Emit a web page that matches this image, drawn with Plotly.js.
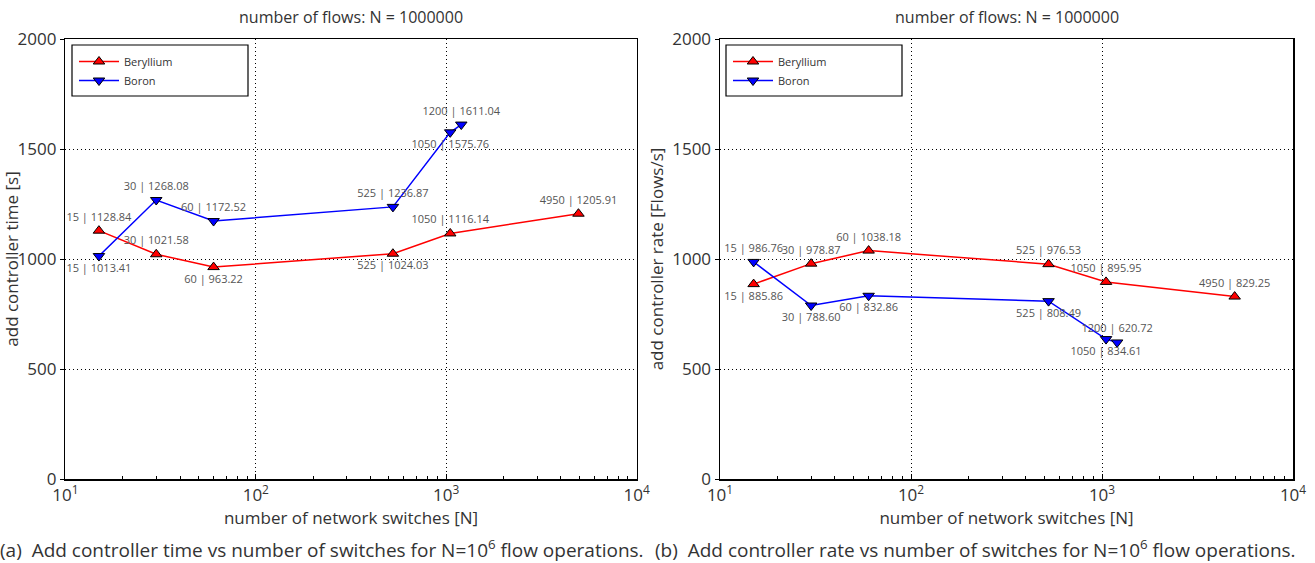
<!DOCTYPE html>
<html>
<head>
<meta charset="utf-8">
<script src="https://cdn.plot.ly/plotly-3.0.1.min.js"></script>
<style>html,body{margin:0;padding:0;background:#fff;}#chart{width:1315px;height:563px;}</style>
</head>
<body>
<div id="chart"></div>
<script>
// ---- data ----
const switchesBe = [15, 30, 60, 525, 1050, 4950];
const switchesBo = [15, 30, 60, 525, 1050, 1200];

const timeBe = [1128.84, 1021.58, 963.22, 1024.03, 1116.14, 1205.91];
const timeBo = [1013.41, 1268.08, 1172.52, 1236.87, 1575.76, 1611.04];

const rateBe = [885.86, 978.87, 1038.18, 976.53, 895.95, 829.25];
const rateBo = [986.76, 788.60, 832.86, 808.49, 636.00, 620.72];
const rateBoLabels = [986.76, 788.60, 832.86, 808.49, 834.61, 620.72];

const timeBePos = ['top center','top center','bottom center','bottom center','top center','top center'];
const timeBoPos = ['bottom center','top center','top center','top center','bottom center','top center'];
const rateBePos = ['bottom center','top center','top center','top center','top center','top center'];
const rateBoPos = ['top center','bottom center','bottom center','bottom center','bottom center','top center'];

const xTickVals = [10, 100, 1000, 10000];
const xTickText = ['10<sup>1</sup>', '10<sup>2</sup>', '10<sup>3</sup>', '10<sup>4</sup>'];
const xMinorVals = [20,30,40,50,60,70,80,90,200,300,400,500,600,700,800,900,2000,3000,4000,5000,6000,7000,8000,9000];
const yTickVals = [0, 500, 1000, 1500, 2000];

const FONT = 'Open Sans, Noto Sans, sans-serif';
const labelsOf = (xs, vs) => xs.map((x, i) => x + ' | ' + vs[i].toFixed(2));

function series(name, x, y, labels, pos, color, sym, xa, ya, legend) {
  return {
    type: 'scatter', mode: 'lines+markers+text', name: name,
    x: x, y: y, text: labels, textposition: pos,
    textfont: {family: FONT, size: 11, color: '#555555'},
    line: {color: color, width: 1.5},
    marker: {symbol: sym, size: 10, color: color, line: {color: '#000', width: 1}},
    xaxis: xa, yaxis: ya, legend: legend, cliponaxis: false
  };
}

const traces = [
  series('Beryllium', switchesBe, timeBe, labelsOf(switchesBe, timeBe), timeBePos, '#ff0000', 'triangle-up', 'x', 'y', 'legend'),
  series('Boron', switchesBo, timeBo, labelsOf(switchesBo, timeBo), timeBoPos, '#0000ff', 'triangle-down', 'x', 'y', 'legend'),
  series('Beryllium', switchesBe, rateBe, labelsOf(switchesBe, rateBe), rateBePos, '#ff0000', 'triangle-up', 'x2', 'y2', 'legend2'),
  series('Boron', switchesBo, rateBo, labelsOf(switchesBo, rateBoLabels), rateBoPos, '#0000ff', 'triangle-down', 'x2', 'y2', 'legend2')
];

const yBot = (563 - 479) / 563, yTop = (563 - 39) / 563;
function xaxis(domain, anchor) {
  return {
    type: 'log', domain: domain, anchor: anchor, range: [1, 4],
    tickvals: xTickVals, ticktext: xTickText,
    tickfont: {family: FONT, size: 17, color: '#333'},
    showgrid: true, gridcolor: '#000', griddash: '1px,3px', gridwidth: 1,
    showline: true, linecolor: '#000', linewidth: 1.5, mirror: true,
    ticks: 'inside', ticklen: 5, tickcolor: '#000',
    minor: {tickvals: xMinorVals, ticks: 'inside', ticklen: 3, tickcolor: '#000', showgrid: false},
    zeroline: false,
    title: {text: 'number of network switches [N]', font: {family: FONT, size: 17, color: '#333'}, standoff: 0}
  };
}
function yaxis(anchor, title) {
  return {
    domain: [yBot, yTop], anchor: anchor, range: [0, 2000],
    tickvals: yTickVals, tickfont: {family: FONT, size: 17, color: '#333'},
    showgrid: true, gridcolor: '#000', griddash: '1px,3px', gridwidth: 1,
    showline: true, linecolor: '#000', linewidth: 1.5, mirror: true,
    ticks: 'outside', ticklen: 4, tickcolor: '#000', zeroline: false,
    title: {text: title, font: {family: FONT, size: 17, color: '#333'}, standoff: 4}
  };
}

const lx1 = 65.4 / 1315, rx1 = 636.6 / 1315, lx2 = 720 / 1315, rx2 = 1293 / 1315;

const legendStyle = (x) => ({
  x: x, y: (563 - 47) / 563, xanchor: 'left', yanchor: 'top', xref: 'paper', yref: 'paper',
  bgcolor: 'rgba(0,0,0,0)', borderwidth: 0,
  font: {family: FONT, size: 11, color: '#333'}, tracegroupgap: 0, itemwidth: 40
});

function note(text, x, y, size) {
  return {text: text, xref: 'paper', yref: 'paper', x: x, y: y, xanchor: 'center', yanchor: 'middle',
          showarrow: false, font: {family: FONT, size: size, color: '#333'}};
}

const layout = {
  width: 1315, height: 563,
  margin: {l: 0, r: 0, t: 0, b: 0},
  paper_bgcolor: '#fff', plot_bgcolor: '#fff',
  showlegend: true,
  xaxis: xaxis([lx1, rx1], 'y'),
  yaxis: yaxis('x', 'add controller time [s]'),
  xaxis2: xaxis([lx2, rx2], 'y2'),
  yaxis2: yaxis('x2', 'add controller rate [Flows/s]'),
  legend: legendStyle(74 / 1315),
  legend2: legendStyle(728 / 1315),
  shapes: [
    {type: 'rect', xref: 'paper', yref: 'paper', x0: 72 / 1315, x1: 248 / 1315, y0: (563 - 96) / 563, y1: (563 - 45) / 563, line: {color: '#000', width: 1.2}},
    {type: 'rect', xref: 'paper', yref: 'paper', x0: 726 / 1315, x1: 902 / 1315, y0: (563 - 96) / 563, y1: (563 - 45) / 563, line: {color: '#000', width: 1.2}}
  ],
  annotations: [
    note('number of flows: N = 1000000', (lx1 + rx1) / 2, (563 - 17) / 563, 16),
    note('number of flows: N = 1000000', (lx2 + rx2) / 2, (563 - 17) / 563, 16),
    note('(a)  Add controller time vs number of switches for N=10<sup>6</sup> flow operations.', 322 / 1315, (563 - 549) / 563, 19),
    note('(b)  Add controller rate vs number of switches for N=10<sup>6</sup> flow operations.', 975 / 1315, (563 - 549) / 563, 19)
  ]
};

Plotly.newPlot('chart', traces, layout, {displayModeBar: false, staticPlot: true});
</script>
</body>
</html>
